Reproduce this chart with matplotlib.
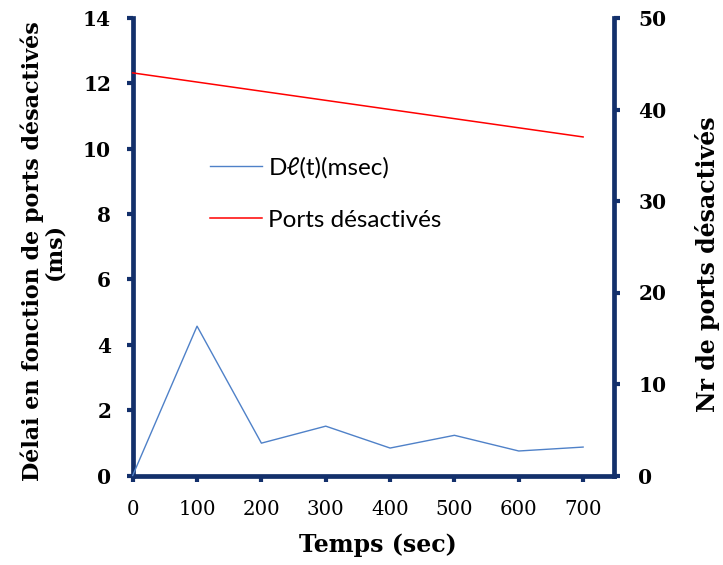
import matplotlib
matplotlib.use("Agg")
import matplotlib.pyplot as plt

# Data
temps = [0, 100, 200, 300, 400, 500, 600, 700]
delai_ms = [0.0, 4.57, 0.99, 1.51, 0.84, 1.23, 0.75, 0.87]
ports_desactives = [44, 43, 42, 41, 40, 39, 38, 37]
x_ticks = [0, 100, 200, 300, 400, 500, 600, 700]
left_ticks = [0, 2, 4, 6, 8, 10, 12, 14]
right_ticks = [0, 10, 20, 30, 40, 50]

navy = '#13306b'
serif = ['DejaVu Serif']
W, H = 723, 565

fig = plt.figure(figsize=(W / 100, H / 100), dpi=100)
ax = fig.add_axes([132.7 / W, 1 - 475.5 / H, (614 - 132.7) / W, (475.5 - 18) / H])
ax2 = ax.twinx()

l1, = ax.plot(temps, delai_ms, color='#4f81c8', lw=1.0, clip_on=False, zorder=3)
l2, = ax2.plot(temps, ports_desactives, color='#ff0000', lw=1.1, clip_on=False)

ax.set_xlim(0, 748)
ax.set_ylim(0, 14)
ax2.set_ylim(0, 50)
ax.set_xticks(x_ticks)
ax.set_yticks(left_ticks)
ax2.set_yticks(right_ticks)

for a in (ax, ax2):
    a.spines['top'].set_visible(False)
    for s in ('left', 'right', 'bottom'):
        a.spines[s].set_color(navy)
        a.spines[s].set_linewidth(3.4)
ax.spines['right'].set_visible(False)
ax2.spines['left'].set_visible(False)
ax2.spines['bottom'].set_visible(False)

ax.tick_params(axis='x', direction='out', length=4.5, width=3, color=navy, pad=13)
ax.tick_params(axis='y', direction='out', length=4.5, width=3, color=navy, pad=11)
ax2.tick_params(axis='y', direction='out', length=4.5, width=3, color=navy, pad=13)

for lab in ax.get_xticklabels():
    lab.set_fontfamily(serif)
    lab.set_fontsize(14.2)
for lab in ax.get_yticklabels() + ax2.get_yticklabels():
    lab.set_fontfamily(serif)
    lab.set_fontsize(14.5)
    lab.set_fontweight('bold')

fig.text(378 / W, 1 - 545 / H, 'Temps (sec)', family=serif, fontsize=17,
         fontweight='bold', ha='center', va='center')
fig.text(43 / W, 1 - 251 / H, 'Délai en fonction de ports désactivés\n(ms)',
         family=serif, fontsize=16, fontweight='bold', rotation=90,
         ha='center', va='center', multialignment='center', linespacing=1.0)
fig.text(707 / W, 1 - 264 / H, 'Nr de ports désactivés', family=serif,
         fontsize=17, fontweight='bold', rotation=90, ha='center', va='center')

leg = ax2.legend([l1, l2], ['Dℓ(t)(msec)', 'Ports désactivés'],
                 loc='center left', bbox_to_anchor=(210 / W, 1 - 194 / H),
                 bbox_transform=fig.transFigure, frameon=False,
                 borderpad=0, borderaxespad=0,
                 handlelength=2.15, handletextpad=0.25, labelspacing=1.27,
                 prop={'family': ['Lato', 'DejaVu Sans'], 'size': 17.5})

fig.savefig('out.png', dpi=100)
